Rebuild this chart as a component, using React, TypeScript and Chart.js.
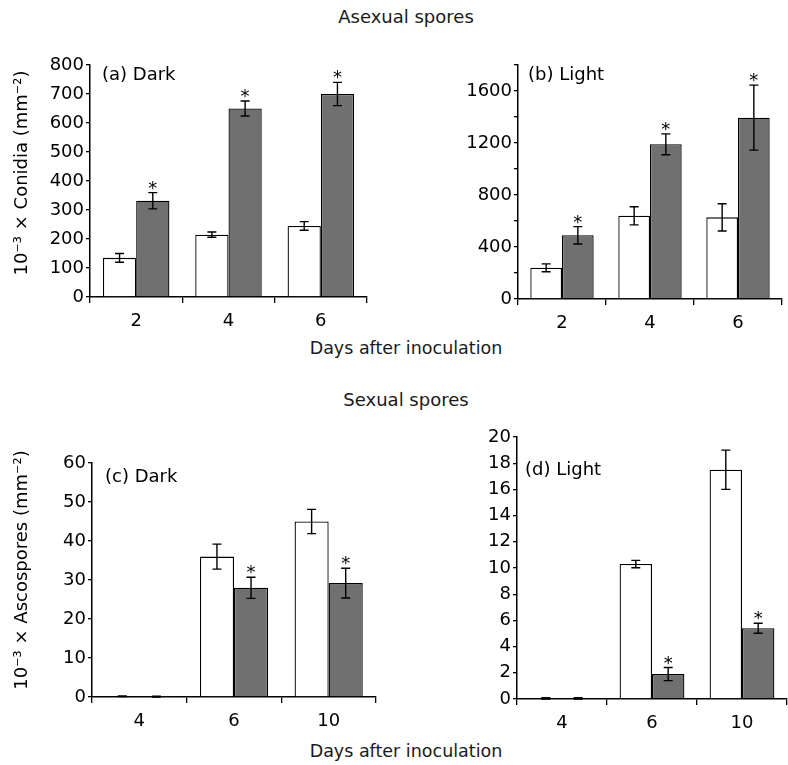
import React, { useEffect, useRef } from "react";
import { Chart, registerables } from "chart.js";

Chart.register(...registerables);

const FONT = "'DejaVu Sans', 'Liberation Sans', sans-serif";

// ---------- data ----------
const asexualDays = ["2", "4", "6"];
const sexualDays = ["4", "6", "10"];

const aDarkWhite = [135, 215, 245];
const aDarkWhiteErr = [15, 9, 15];
const aDarkGray = [332, 650, 700];
const aDarkGrayErr = [28, 26, 40];
const aDarkGraySig = [true, true, true];

const bLightWhite = [240, 640, 628];
const bLightWhiteErr = [30, 70, 105];
const bLightGray = [490, 1190, 1395];
const bLightGrayErr = [67, 80, 250];
const bLightGraySig = [true, true, true];

const cDarkWhite = [0.2, 36, 45];
const cDarkWhiteErr = [0.1, 3.2, 3.1];
const cDarkGray = [0.1, 28, 29.2];
const cDarkGrayErr = [0.1, 2.7, 3.8];
const cDarkGraySig = [false, true, true];

const dLightWhite = [0.05, 10.3, 17.5];
const dLightWhiteErr = [0.05, 0.28, 1.5];
const dLightGray = [0.05, 1.9, 5.4];
const dLightGrayErr = [0.05, 0.5, 0.38];
const dLightGraySig = [false, true, true];

const WHITE = "#ffffff";
const GRAY = "#707070";

// ---------- plugins ----------
const errorBarPlugin = {
  id: "errorBars",
  afterDatasetsDraw(chart: any) {
    const ctx = chart.ctx;
    const ys = chart.scales.y;
    chart.data.datasets.forEach((ds: any, di: number) => {
      const meta = chart.getDatasetMeta(di);
      meta.data.forEach((bar: any, i: number) => {
        const v = ds.data[i];
        const e = ds.errors ? ds.errors[i] : 0;
        const x = bar.x;
        const yTop = ys.getPixelForValue(v + e);
        const yBot = ys.getPixelForValue(Math.max(v - e, 0));
        ctx.save();
        ctx.strokeStyle = "#000";
        ctx.lineWidth = 1.4;
        ctx.beginPath();
        ctx.moveTo(x, yTop);
        ctx.lineTo(x, yBot);
        ctx.moveTo(x - 4.5, yTop);
        ctx.lineTo(x + 4.5, yTop);
        ctx.moveTo(x - 4.5, yBot);
        ctx.lineTo(x + 4.5, yBot);
        ctx.stroke();
        if (ds.sig && ds.sig[i]) {
          ctx.fillStyle = "#000";
          ctx.font = `18px ${FONT}`;
          ctx.textAlign = "center";
          ctx.textBaseline = "alphabetic";
          ctx.fillText("*", x, yTop + 1);
        }
        ctx.restore();
      });
    });
  },
};

const panelTextPlugin = {
  id: "panelText",
  afterDraw(chart: any, _args: any, opts: any) {
    const ctx = chart.ctx;
    const area = chart.chartArea;
    ctx.save();
    ctx.fillStyle = "#000";
    ctx.font = `18px ${FONT}`;
    ctx.textAlign = "left";
    ctx.textBaseline = "middle";
    ctx.fillText(opts.label, area.left + opts.dx, area.top + opts.dy);
    if (opts.yTitle) {
      ctx.translate(opts.tx, opts.ty);
      ctx.rotate(-Math.PI / 2);
      ctx.textAlign = "center";
      ctx.textBaseline = "middle";
      ctx.fillText(opts.yTitle, 0, 0);
    }
    ctx.restore();
  },
};

type Box = { left: number; top: number; width: number; height: number };
type Area = { left: number; top: number; right: number; bottom: number };

type PanelProps = {
  labels: string[];
  white: number[];
  whiteErr: number[];
  gray: number[];
  graySig: boolean[];
  grayErr: number[];
  yMax: number;
  yStep: number;
  yLabelEvery: number;
  panelLabel: string;
  labelDx: number;
  labelDy: number;
  yTitle?: string;
  titleX?: number;
  titleY?: number;
  box: Box;
  area: Area;
};

function Panel(p: PanelProps) {
  const ref = useRef<HTMLCanvasElement | null>(null);
  useEffect(() => {
    if (!ref.current) return;
    const yWidth = p.area.left - p.box.left;
    const xHeight = p.box.top + p.box.height - p.area.bottom;
    const padTop = p.area.top - p.box.top;
    const padRight = p.box.left + p.box.width - p.area.right;
    const chart = new Chart(ref.current, {
      type: "bar",
      data: {
        labels: p.labels,
        datasets: [
          {
            label: "white",
            data: p.white,
            backgroundColor: WHITE,
            borderColor: "#000",
            borderWidth: 1.3,
            errors: p.whiteErr,
            sig: p.labels.map(() => false),
          } as any,
          {
            label: "gray",
            data: p.gray,
            backgroundColor: GRAY,
            borderColor: "#000",
            borderWidth: 1.3,
            errors: p.grayErr,
            sig: p.graySig,
          } as any,
        ],
      },
      options: {
        animation: false,
        responsive: false,
        maintainAspectRatio: false,
        layout: { padding: { top: padTop, right: padRight, left: 0, bottom: 0 } },
        datasets: { bar: { categoryPercentage: 0.72, barPercentage: 1.0 } },
        plugins: {
          legend: { display: false },
          tooltip: { enabled: false },
          panelText: {
            label: p.panelLabel,
            dx: p.labelDx,
            dy: p.labelDy,
            yTitle: p.yTitle,
            tx: p.titleX,
            ty: p.titleY,
          },
        } as any,
        scales: {
          x: {
            afterFit: (s: any) => {
              s.height = xHeight;
            },
            grid: {
              display: true,
              drawOnChartArea: false,
              drawTicks: true,
              tickLength: 6,
              color: "#000",
              lineWidth: 1.3,
              offset: true,
            },
            border: { display: true, color: "#000", width: 1.5 },
            ticks: { color: "#000", font: { family: FONT, size: 18 }, padding: 8 },
          },
          y: {
            min: 0,
            max: p.yMax,
            afterFit: (s: any) => {
              s.width = yWidth;
            },
            grid: {
              display: true,
              drawOnChartArea: false,
              drawTicks: true,
              tickLength: 4,
              color: "#000",
              lineWidth: 1.3,
            },
            border: { display: true, color: "#000", width: 1.5 },
            ticks: {
              stepSize: p.yStep,
              color: "#000",
              font: { family: FONT, size: 18 },
              padding: 2,
              callback: (v: any) => (Number(v) % p.yLabelEvery === 0 ? String(v) : ""),
            },
          },
        },
      } as any,
      plugins: [errorBarPlugin, panelTextPlugin],
    });
    return () => chart.destroy();
  }, []);
  return (
    <canvas
      ref={ref}
      width={p.box.width}
      height={p.box.height}
      style={{
        position: "absolute",
        left: p.box.left,
        top: p.box.top,
        width: p.box.width,
        height: p.box.height,
      }}
    />
  );
}

const textStyle = (top: number, size: number): React.CSSProperties => ({
  position: "absolute",
  left: 206,
  width: 400,
  top,
  textAlign: "center",
  fontFamily: FONT,
  fontSize: size,
  lineHeight: `${size}px`,
  color: "#1a1a1a",
  whiteSpace: "nowrap",
});

export default function App() {
  return (
    <div
      style={{
        position: "absolute",
        left: 0,
        top: 0,
        width: 788,
        height: 765,
        background: "#fff",
        overflow: "hidden",
      }}
    >
      <div style={textStyle(8, 18)}>Asexual spores</div>
      <div style={textStyle(340, 17.5)}>Days after inoculation</div>
      <div style={textStyle(391, 18)}>Sexual spores</div>
      <div style={textStyle(743, 17.5)}>Days after inoculation</div>

      <Panel
        labels={asexualDays}
        white={aDarkWhite}
        whiteErr={aDarkWhiteErr}
        gray={aDarkGray}
        grayErr={aDarkGrayErr}
        graySig={aDarkGraySig}
        yMax={800}
        yStep={100}
        yLabelEvery={100}
        panelLabel="(a) Dark"
        labelDx={12}
        labelDy={10}
        yTitle="10⁻³ × Conidia (mm⁻²)"
        titleX={22}
        titleY={133}
        box={{ left: 0, top: 40, width: 394, height: 300 }}
        area={{ left: 90, top: 65, right: 367, bottom: 297 }}
      />
      <Panel
        labels={asexualDays}
        white={bLightWhite}
        whiteErr={bLightWhiteErr}
        gray={bLightGray}
        grayErr={bLightGrayErr}
        graySig={bLightGraySig}
        yMax={1800}
        yStep={200}
        yLabelEvery={400}
        panelLabel="(b) Light"
        labelDx={10}
        labelDy={10}
        box={{ left: 400, top: 40, width: 388, height: 300 }}
        area={{ left: 518, top: 65, right: 782, bottom: 299 }}
      />
      <Panel
        labels={sexualDays}
        white={cDarkWhite}
        whiteErr={cDarkWhiteErr}
        gray={cDarkGray}
        grayErr={cDarkGrayErr}
        graySig={cDarkGraySig}
        yMax={60}
        yStep={10}
        yLabelEvery={10}
        panelLabel="(c) Dark"
        labelDx={13}
        labelDy={14}
        yTitle="10⁻³ × Ascospores (mm⁻²)"
        titleX={22}
        titleY={150}
        box={{ left: 0, top: 420, width: 394, height: 320 }}
        area={{ left: 92, top: 463, right: 376, bottom: 697 }}
      />
      <Panel
        labels={sexualDays}
        white={dLightWhite}
        whiteErr={dLightWhiteErr}
        gray={dLightGray}
        grayErr={dLightGrayErr}
        graySig={dLightGraySig}
        yMax={20}
        yStep={2}
        yLabelEvery={2}
        panelLabel="(d) Light"
        labelDx={8}
        labelDy={33}
        box={{ left: 400, top: 420, width: 388, height: 320 }}
        area={{ left: 517, top: 437, right: 787, bottom: 699 }}
      />
    </div>
  );
}
